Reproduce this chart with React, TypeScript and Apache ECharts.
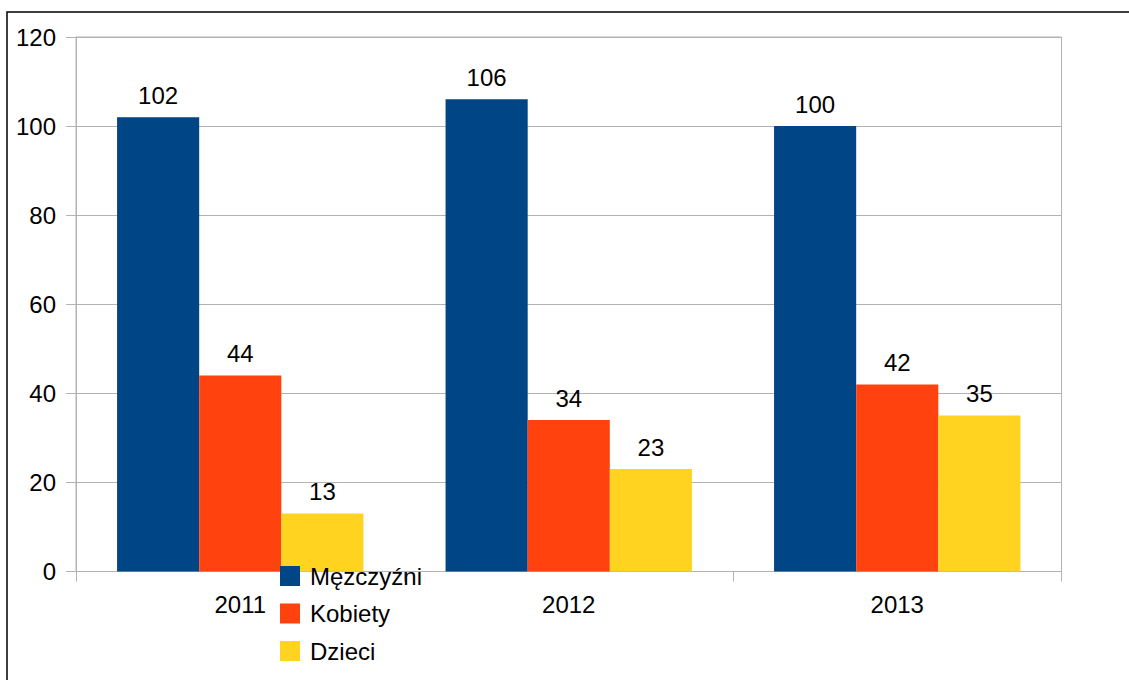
import React, { useEffect, useRef } from "react";
import * as echarts from "echarts";

const categories = ["2011", "2012", "2013"];
const seriesNames = ["Męzczyźni", "Kobiety", "Dzieci"];
const men = [102, 106, 100];
const women = [44, 34, 42];
const children = [13, 23, 35];
const colors = ["#004586", "#ff420e", "#ffd320"];

export default function App() {
  const ref = useRef<HTMLDivElement>(null);
  useEffect(() => {
    document.body.style.margin = "0";
    const chart = echarts.init(ref.current!, null, { renderer: "svg" });
    const font = "'Liberation Sans', Arial, sans-serif";
    const mk = (name: string, data: number[], color: string) => ({
      name,
      type: "bar",
      data,
      itemStyle: { color },
      barGap: "0%",
      barCategoryGap: "25%",
      label: {
        show: true,
        position: "top",
        distance: 10,
        fontSize: 24,
        fontFamily: font,
        color: "#000",
      },
    });
    chart.setOption({
      animation: false,
      backgroundColor: "#fff",
      color: colors,
      textStyle: { fontFamily: font },
      grid: {
        left: 76,
        top: 37,
        width: 985.5,
        height: 534.5,
        show: true,
        borderColor: "#b3b3b3",
        borderWidth: 1,
        backgroundColor: "transparent",
      },
      graphic: [
        {
          type: "rect",
          shape: { x: 7, y: 12, width: 1300, height: 800 },
          style: { fill: "none", stroke: "#000", lineWidth: 1.5 },
          z: 100,
        },
      ],
      legend: {
        orient: "vertical",
        left: 280,
        top: 564,
        itemWidth: 20,
        itemHeight: 20,
        itemGap: 13.5,
        icon: "rect",
        data: seriesNames,
        textStyle: {
          fontSize: 24,
          lineHeight: 20,
          fontFamily: font,
          color: "#000",
          padding: [2, 0, 0, 5],
        },
        padding: 0,
        z: 10,
      },
      xAxis: {
        type: "category",
        data: categories,
        axisLine: { lineStyle: { color: "#b3b3b3" } },
        axisTick: { show: true, length: 10, lineStyle: { color: "#b3b3b3" } },
        axisLabel: { fontSize: 24, color: "#000", margin: 21, fontFamily: font },
        splitLine: { show: false },
      },
      yAxis: {
        type: "value",
        min: 0,
        max: 120,
        interval: 20,
        axisLine: { show: true, lineStyle: { color: "#b3b3b3" } },
        axisTick: { show: true, length: 10, lineStyle: { color: "#b3b3b3" } },
        axisLabel: { fontSize: 24, color: "#000", margin: 20, fontFamily: font },
        splitLine: { show: true, lineStyle: { color: "#b3b3b3" } },
      },
      series: [
        mk(seriesNames[0], men, colors[0]),
        mk(seriesNames[1], women, colors[1]),
        mk(seriesNames[2], children, colors[2]),
      ],
    });
    return () => chart.dispose();
  }, []);
  return <div ref={ref} style={{ width: 1129, height: 680 }} />;
}
